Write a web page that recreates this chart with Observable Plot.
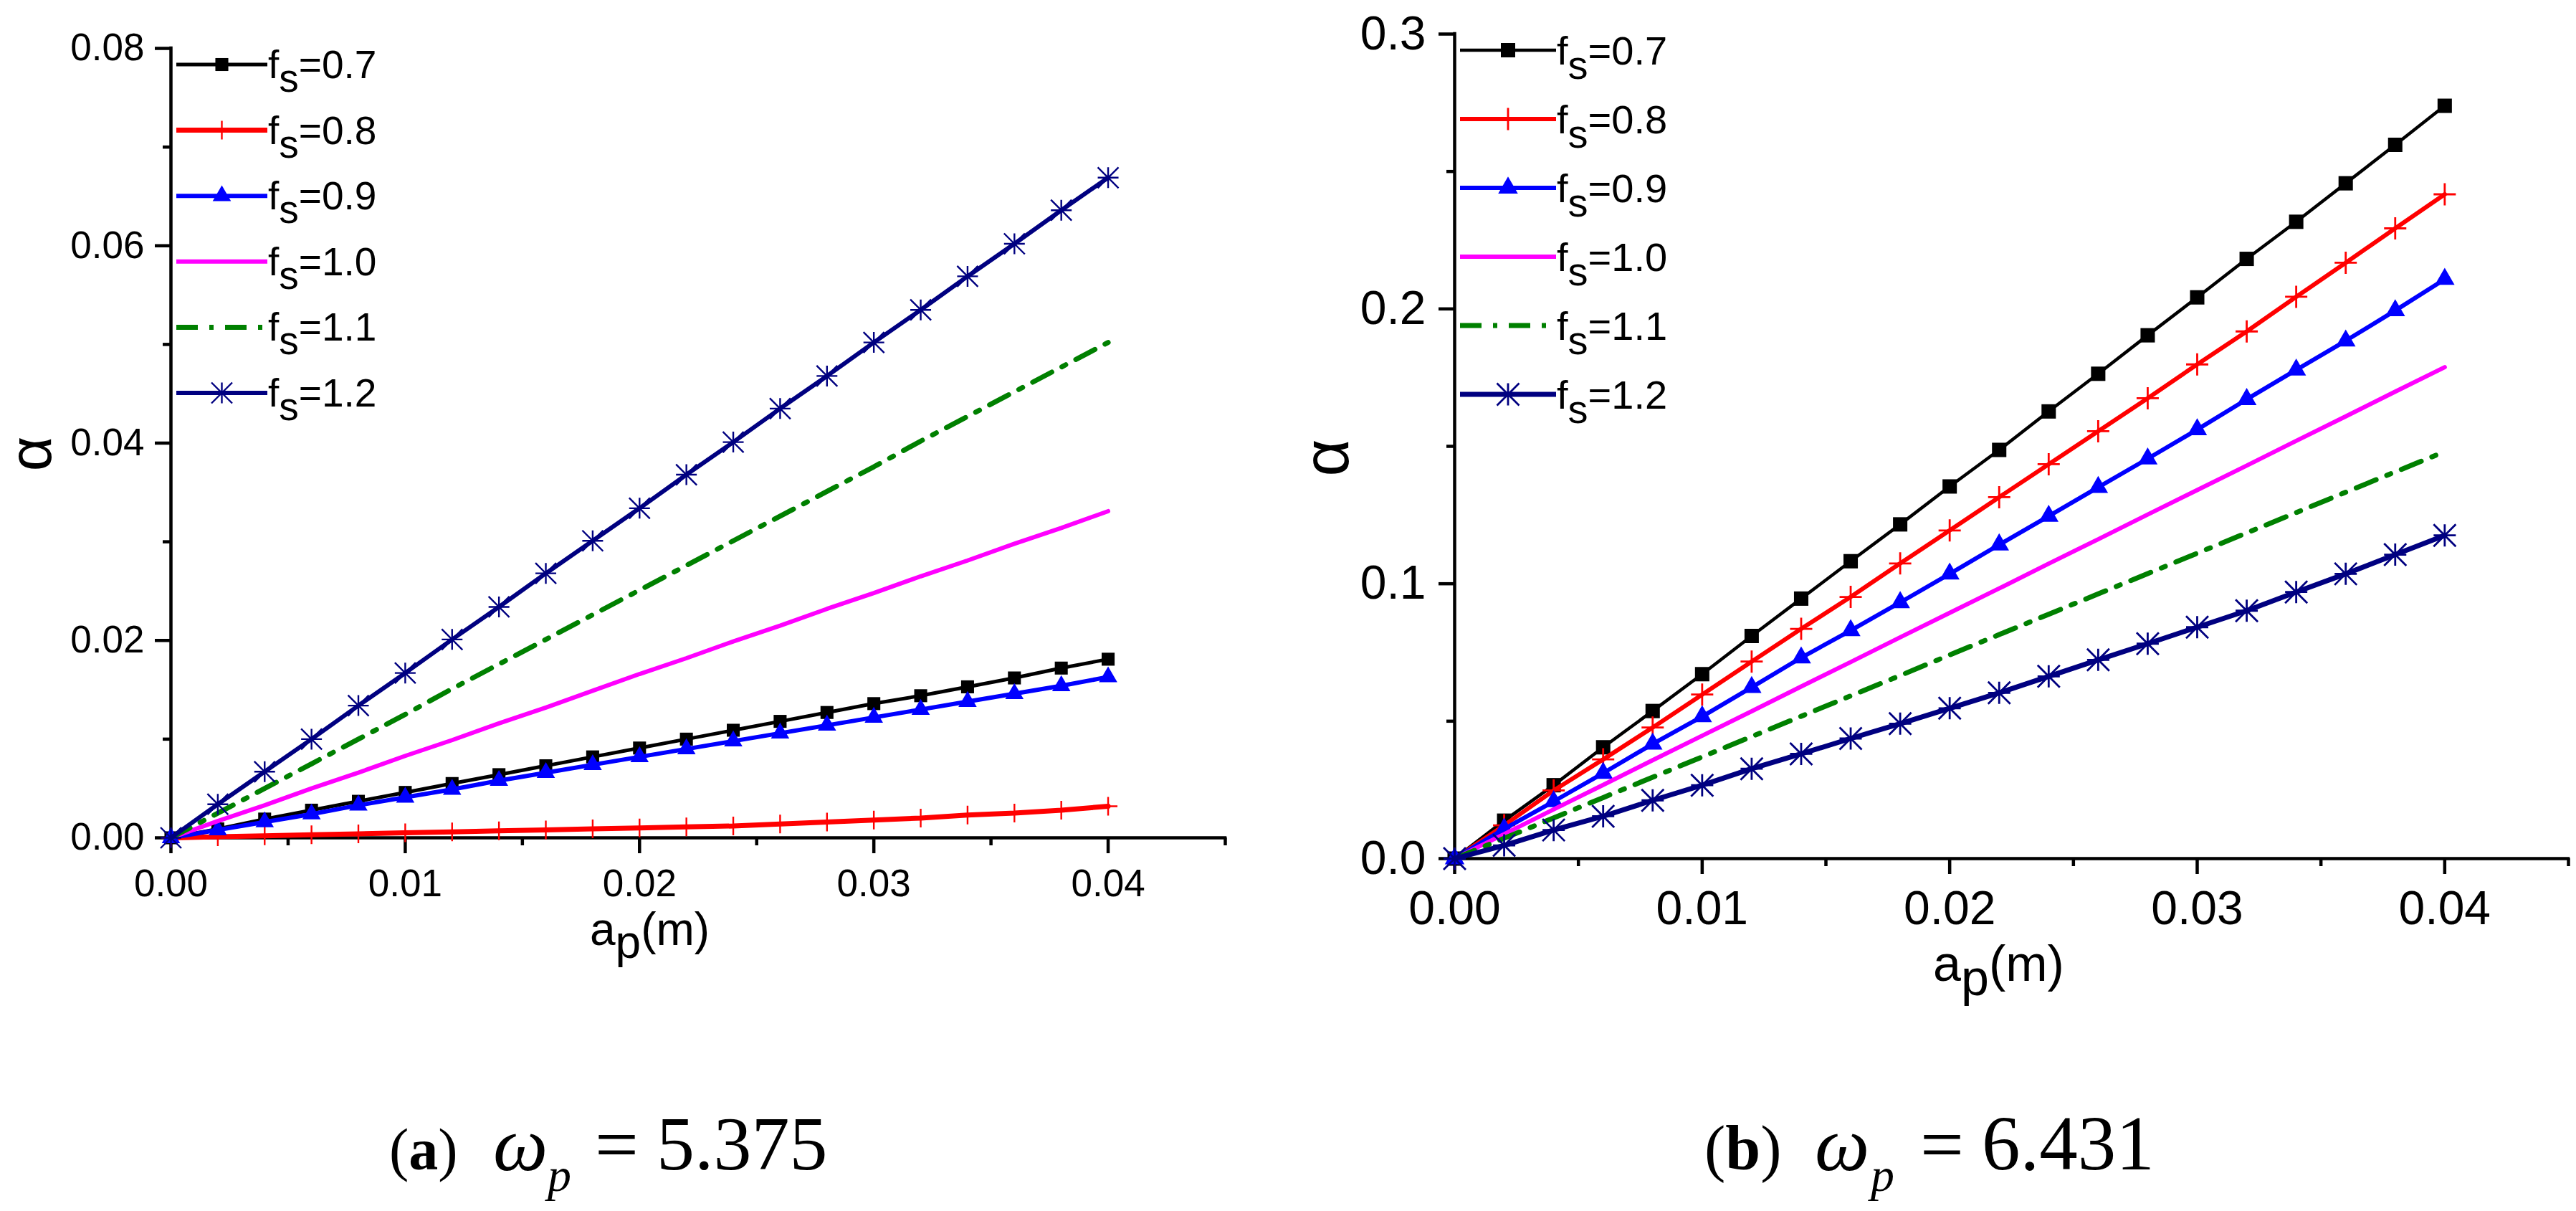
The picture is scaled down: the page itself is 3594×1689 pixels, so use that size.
<!DOCTYPE html>
<html><head><meta charset="utf-8">
<script src="https://cdn.jsdelivr.net/npm/d3@7"></script>
<script src="https://cdn.jsdelivr.net/npm/@observablehq/plot@0.6"></script>
<style>
html,body{margin:0;padding:0;background:#fff;}
#wrap{position:relative;width:3594px;height:1689px;overflow:hidden;color:#000;font-family:"Liberation Sans",Arial,sans-serif;background:#fff;}
.panel{position:absolute;top:0;}
.cap{position:absolute;left:0;top:0;font-family:"Liberation Serif","Times New Roman",serif;color:#000;}
.cap span{position:absolute;white-space:nowrap;line-height:1;}
</style></head><body><div id="wrap"></div>
<script>
// ---- data ----
const ap = [0,0.002,0.004,0.006,0.008,0.010,0.012,0.014,0.016,0.018,0.020,0.022,0.024,0.026,0.028,0.030,0.032,0.034,0.036,0.038,0.040];
const fsLabels = ["0.7","0.8","0.9","1.0","1.1","1.2"];
const xMajorTicks = [0,0.01,0.02,0.03,0.04];
const xMinorTicks = [0.005,0.015,0.025,0.035,0.045];
const yMajorTicksA = [0,0.02,0.04,0.06,0.08];
const yMinorTicksA = [0.01,0.03,0.05,0.07];
const yMajorTicksB = [0,0.1,0.2,0.3];
const yMinorTicksB = [0.05,0.15,0.25];

// (a) omega_p = 5.375
const alphaA_07 = [0,0.0009,0.0019,0.0028,0.0037,0.0046,0.0055,0.0064,0.0073,0.0082,0.0091,0.0100,0.0109,0.0118,0.0127,0.0136,0.0144,0.0153,0.0162,0.0172,0.0181];
const alphaA_08 = [0,0.0001,0.0002,0.0003,0.0004,0.0005,0.0006,0.0007,0.0008,0.0009,0.0010,0.0011,0.0012,0.0014,0.0016,0.0018,0.0020,0.0023,0.0025,0.0028,0.0032];
const alphaA_09 = [0,0.0008,0.0016,0.0024,0.0033,0.0041,0.0049,0.0058,0.0066,0.0074,0.0082,0.0090,0.0098,0.0106,0.0114,0.0122,0.0130,0.0138,0.0146,0.0154,0.0163];
const alphaA_10 = [0,0.0017,0.0033,0.0050,0.0066,0.0083,0.0099,0.0116,0.0132,0.0149,0.0166,0.0182,0.0199,0.0215,0.0232,0.0248,0.0265,0.0281,0.0298,0.0314,0.0331];
const alphaA_11 = [0,0.0025,0.0050,0.0075,0.0100,0.0125,0.0151,0.0176,0.0201,0.0226,0.0251,0.0276,0.0301,0.0326,0.0351,0.0376,0.0402,0.0427,0.0452,0.0477,0.0502];
const alphaA_12 = [0,0.0034,0.0067,0.0100,0.0134,0.0167,0.0201,0.0234,0.0268,0.0301,0.0334,0.0368,0.0401,0.0435,0.0468,0.0502,0.0535,0.0569,0.0602,0.0636,0.0669];

// (b) omega_p = 6.431
const alphaB_07 = [0,0.0138,0.0267,0.0405,0.0537,0.0671,0.0810,0.0946,0.1082,0.1216,0.1354,0.1487,0.1627,0.1764,0.1904,0.2042,0.2182,0.2317,0.2457,0.2597,0.2739];
const alphaB_08 = [0,0.0121,0.0248,0.0361,0.0477,0.0597,0.0717,0.0836,0.0952,0.1074,0.1194,0.1315,0.1435,0.1555,0.1675,0.1798,0.1918,0.2044,0.2168,0.2293,0.2417];
const alphaB_09 = [0,0.0108,0.0208,0.0311,0.0417,0.0517,0.0623,0.0731,0.0830,0.0932,0.1036,0.1142,0.1246,0.1351,0.1455,0.1561,0.1671,0.1778,0.1884,0.1994,0.2108];
const alphaB_10 = [0,0.0089,0.0179,0.0268,0.0358,0.0447,0.0536,0.0626,0.0715,0.0805,0.0894,0.0983,0.1073,0.1162,0.1252,0.1341,0.1430,0.1520,0.1609,0.1699,0.1788];
const alphaB_11 = [0,0.0074,0.0148,0.0222,0.0296,0.0370,0.0444,0.0518,0.0592,0.0666,0.0741,0.0815,0.0889,0.0963,0.1037,0.1111,0.1185,0.1259,0.1333,0.1407,0.1481];
const alphaB_12 = [0,0.0048,0.0104,0.0154,0.0212,0.0267,0.0327,0.0381,0.0437,0.0491,0.0547,0.0603,0.0663,0.0723,0.0782,0.0842,0.0902,0.0970,0.1036,0.1106,0.1176];

// ---- styles ----
const colors = ["#000000","#ff0000","#0000ff","#ff00ff","#008000","#000080"];
const dashes = [null,null,null,null,"30,16,6,16",null];
const plusSym = {draw(ctx, size){const r=Math.sqrt(size/Math.PI);ctx.moveTo(-r,0);ctx.lineTo(r,0);ctx.moveTo(0,-r);ctx.lineTo(0,r);}};
const starSym = {draw(ctx, size){const r=Math.sqrt(size/Math.PI);ctx.moveTo(0,-r);ctx.lineTo(0,r);ctx.moveTo(-r,0);ctx.lineTo(r,0);ctx.moveTo(-r,-r);ctx.lineTo(r,r);ctx.moveTo(-r,r);ctx.lineTo(r,-r);}};
const markerKinds = ["square","plus","triangle",null,null,"star"];
const symFor = {square:"square", triangle:"triangle", plus:plusSym, star:starSym};
const d3SymFor = {square:d3.symbolSquare, triangle:d3.symbolTriangle, plus:plusSym, star:starSym};

function rows(vals){ return ap.map((x,i)=>({ap:x, alpha:vals[i]})); }

function makePanel(cfg){
  const marks = [];
  marks.push(Plot.ruleX([0], {y1: 0, y2: cfg.yMax, strokeWidth: 4.5, strokeLinecap: "square"}));
  marks.push(Plot.ruleY([0], {x1: 0, x2: 0.045, strokeWidth: 4.5, strokeLinecap: "square"}));
  marks.push(Plot.axisX({ticks: xMajorTicks, tickSize: 22, tickPadding: cfg.xPad, tickFormat: d3.format(".2f"), strokeWidth: 4.5, fontSize: cfg.tickFont, label: null}));
  marks.push(Plot.axisX({ticks: xMinorTicks, tickSize: 11, tickFormat: () => "", strokeWidth: 4.5, label: null}));
  marks.push(Plot.axisY({ticks: cfg.yMajor, tickSize: 22, tickPadding: cfg.yPad, tickFormat: d3.format(cfg.yFmt), strokeWidth: 4.5, fontSize: cfg.tickFont, label: null}));
  marks.push(Plot.axisY({ticks: cfg.yMinor, tickSize: 11, tickFormat: () => "", strokeWidth: 4.5, label: null}));
  cfg.series.forEach((vals, i) => {
    const data = rows(vals);
    marks.push(Plot.line(data, {x: "ap", y: "alpha", stroke: colors[i], strokeWidth: cfg.lw[i], strokeDasharray: dashes[i] || undefined, strokeLinejoin: "miter"}));
    const mk = markerKinds[i];
    if (mk) {
      const filled = (mk === "square" || mk === "triangle");
      marks.push(Plot.dot(data, {x: "ap", y: "alpha", symbol: symFor[mk], r: cfg.mr[mk],
        fill: filled ? colors[i] : "none", stroke: filled ? "none" : colors[i], strokeWidth: filled ? 0 : cfg.msw[mk]}));
    }
  });
  marks.push(Plot.text(["α"], {text: d => d, frameAnchor: "left", dx: cfg.alphaDx, dy: cfg.alphaDy, rotate: -90, fontSize: cfg.alphaFont, textAnchor: "middle", lineAnchor: "middle"}));

  const svgEl = Plot.plot({
    width: cfg.width, height: cfg.height,
    marginLeft: cfg.ml, marginRight: cfg.mr_, marginTop: cfg.mt, marginBottom: cfg.mb,
    x: {domain: [0, 0.045]},
    y: {domain: [0, cfg.yMax]},
    style: {fontFamily: "Liberation Sans, Arial, sans-serif", fontSize: cfg.tickFont + "px", color: "#000", background: "transparent", maxWidth: "none", overflow: "visible"},
    marks
  });

  const svg = d3.select(svgEl);
  const xl = svg.append("text").attr("x", cfg.xLabX).attr("y", cfg.xLabY).attr("font-size", cfg.xLabFont)
    .attr("fill", "#000").attr("text-anchor", "start");
  xl.append("tspan").text("a");
  xl.append("tspan").attr("dy", cfg.xLabSub).text("p");
  xl.append("tspan").attr("dy", -cfg.xLabSub).text("(m)");
  const g = svg.append("g").attr("text-anchor", "start");
  fsLabels.forEach((lab, i) => {
    const y = cfg.legY0 + i * cfg.legDy;
    const ln = g.append("line").attr("x1", cfg.legX1).attr("x2", cfg.legX2).attr("y1", y).attr("y2", y)
      .attr("stroke", colors[i]).attr("stroke-width", cfg.lw[i]);
    if (dashes[i]) ln.attr("stroke-dasharray", dashes[i]);
    const mk = markerKinds[i];
    if (mk) {
      const filled = (mk === "square" || mk === "triangle");
      const r = cfg.mr[mk];
      g.append("path").attr("transform", `translate(${(cfg.legX1 + cfg.legX2) / 2},${y})`)
        .attr("d", d3.symbol(d3SymFor[mk], Math.PI * r * r)())
        .attr("fill", filled ? colors[i] : "none").attr("stroke", filled ? "none" : colors[i])
        .attr("stroke-width", filled ? 0 : cfg.msw[mk]);
    }
    const t = g.append("text").attr("x", cfg.legTx).attr("y", y + cfg.legBase).attr("font-size", cfg.legFont)
      .attr("fill", "#000").attr("text-anchor", "start");
    t.append("tspan").text("f");
    t.append("tspan").attr("dy", cfg.legSub).text("s");
    t.append("tspan").attr("dy", -cfg.legSub).text("=" + lab);
  });
  return svgEl;
}

const wrap = document.getElementById("wrap");

const cfgA = {
  width: 1790, height: 1400, ml: 238, mr_: 81, mt: 67, mb: 232,
  yMax: 0.08, yMajor: yMajorTicksA, yMinor: yMinorTicksA, yFmt: ".2f",
  tickFont: 53, xPad: 22, yPad: 15,
  series: [alphaA_07, alphaA_08, alphaA_09, alphaA_10, alphaA_11, alphaA_12],
  lw: [5, 7, 6, 6, 7, 6],
  mr: {square: 10.2, plus: 13, triangle: 9.5, star: 14.5},
  msw: {plus: 2.4, star: 2.4},
  alphaDx: -194, alphaDy: 15, alphaFont: 84,
  xLabX: 823, xLabY: 1318, xLabFont: 64, xLabSub: 18,
  legY0: 90, legDy: 91.6, legX1: 246, legX2: 373, legTx: 374, legBase: 19, legSub: 19, legFont: 55
};
const cfgB = {
  width: 1794, height: 1400, ml: 229, mr_: 11, mt: 47, mb: 203,
  yMax: 0.3, yMajor: yMajorTicksB, yMinor: yMinorTicksB, yFmt: ".1f",
  tickFont: 66, xPad: 23, yPad: 18,
  series: [alphaB_07, alphaB_08, alphaB_09, alphaB_10, alphaB_11, alphaB_12],
  lw: [4.5, 6, 6, 6, 7, 7],
  mr: {square: 11.3, plus: 15.5, triangle: 10.2, star: 15.5},
  msw: {plus: 2.8, star: 2.8},
  alphaDx: -177, alphaDy: 16, alphaFont: 90,
  xLabX: 897, xLabY: 1368, xLabFont: 70, xLabSub: 20,
  legY0: 70, legDy: 96, legX1: 237, legX2: 371, legTx: 372, legBase: 20, legSub: 20, legFont: 56
};

const pA = document.createElement("div"); pA.className = "panel"; pA.style.left = "0px"; pA.style.width = cfgA.width + "px";
pA.appendChild(makePanel(cfgA)); wrap.appendChild(pA);
const pB = document.createElement("div"); pB.className = "panel"; pB.style.left = "1800px"; pB.style.width = cfgB.width + "px";
pB.appendChild(makePanel(cfgB)); wrap.appendChild(pB);

// captions
const captionA = {tag: "a", value: "5.375"};
const captionB = {tag: "b", value: "6.431"};
function addCaption(c, pos){
  const cap = document.createElement("div"); cap.className = "cap";
  const base = 1632;
  function piece(html, left, size, baseline, style){
    const s = document.createElement("span");
    s.innerHTML = html;
    s.style.left = left + "px";
    s.style.fontSize = size + "px";
    s.style.top = (baseline - 0.8375 * size) + "px";
    if (style) s.style.fontStyle = style;
    cap.appendChild(s);
  }
  piece("(<b>" + c.tag + "</b>)", pos.tagX, pos.tagF, base);
  piece("ω", pos.wX, 108, base, "italic");
  piece("p", pos.pX, 66, base + 29, "italic");
  piece("=", pos.eqX, 108, base);
  piece(c.value, pos.vX, pos.vF, base);
  wrap.appendChild(cap);
}
addCaption(captionA, {tagX: 543, tagF: 82, wX: 688, pX: 764, eqX: 830, vX: 916, vF: 106});
addCaption(captionB, {tagX: 2378, tagF: 88, wX: 2532, pX: 2610, eqX: 2679, vX: 2765, vF: 107});
</script>
</body></html>
